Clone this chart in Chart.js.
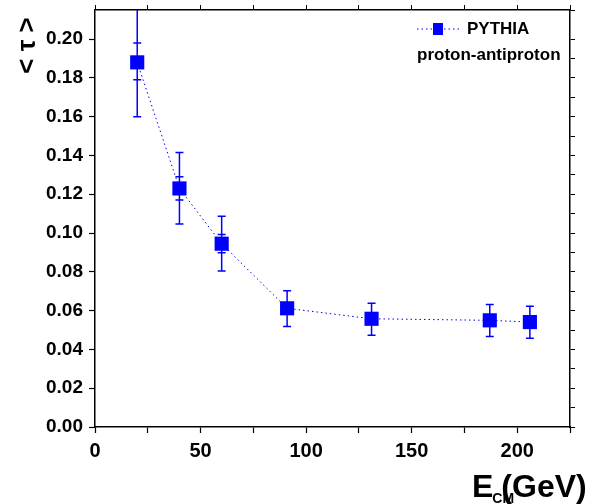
<!DOCTYPE html>
<html>
<head>
<meta charset="utf-8">
<script src="https://cdn.jsdelivr.net/npm/chart.js@4.4.1/dist/chart.umd.min.js"></script>
<style>
  body { margin: 0; background: #fff; }
</style>
</head>
<body>
<canvas id="plot" width="602" height="504"></canvas>
<script>
// values
var energy = [20, 40, 60, 91, 131, 187, 206];          // E_CM (GeV)
var tau = [0.188, 0.123, 0.0945, 0.0612, 0.0558, 0.0550, 0.0541];
var errHigh = [0.240, 0.1415, 0.1087, 0.0703, 0.0638, 0.0631, 0.0622];
var errLow = [0.160, 0.1046, 0.0804, 0.0518, 0.0473, 0.0467, 0.0458];
var statHigh = [0.198, 0.129, 0.0993, 0.0640, 0.0585, 0.0577, 0.0568];
var statLow = [0.179, 0.117, 0.0899, 0.0585, 0.0530, 0.0523, 0.0514];
var xTickLabels = [0, 50, 100, 150, 200];
var yTickLabels = ['0.00', '0.02', '0.04', '0.06', '0.08', '0.10', '0.12', '0.14', '0.16', '0.18', '0.20'];
var seriesName = 'PYTHIA';
var seriesNote = 'proton-antiproton';

var BLUE = '#0000ff';
var FONT = '"Liberation Sans", Arial, sans-serif';
Chart.defaults.font.family = FONT;
Chart.defaults.color = '#000';

var points = energy.map(function (e, i) { return { x: e, y: tau[i] }; });

// error bars, drawn from the scales
var errorBars = {
  id: 'errorBars',
  beforeDatasetsDraw: function (chart) {
    var ctx = chart.ctx, xs = chart.scales.x, ys = chart.scales.y, ca = chart.chartArea;
    ctx.save();
    ctx.beginPath();
    ctx.rect(ca.left, ca.top, ca.right - ca.left, ca.bottom - ca.top);
    ctx.clip();
    ctx.strokeStyle = BLUE;
    ctx.lineWidth = 1.5;
    var cap = 4;
    energy.forEach(function (e, i) {
      var x = xs.getPixelForValue(e);
      var hi = ys.getPixelForValue(errHigh[i]), lo = ys.getPixelForValue(errLow[i]);
      var shi = ys.getPixelForValue(statHigh[i]), slo = ys.getPixelForValue(statLow[i]);
      ctx.beginPath();
      ctx.moveTo(x, hi); ctx.lineTo(x, lo);
      [hi, lo, shi, slo].forEach(function (y) {
        ctx.moveTo(x - cap, y); ctx.lineTo(x + cap, y);
      });
      ctx.stroke();
    });
    ctx.restore();
  }
};

// legend box inside the plot + x axis title with subscript
var annotations = {
  id: 'annotations',
  afterDraw: function (chart) {
    var ctx = chart.ctx, ca = chart.chartArea;
    ctx.save();
    // legend
    var ly = ca.top + 19;
    ctx.strokeStyle = BLUE;
    ctx.lineWidth = 1;
    ctx.setLineDash([1.5, 3]);
    ctx.beginPath();
    ctx.moveTo(ca.right - 153, ly); ctx.lineTo(ca.right - 110, ly);
    ctx.stroke();
    ctx.setLineDash([]);
    ctx.fillStyle = BLUE;
    ctx.fillRect(ca.right - 137, ly - 6, 10, 12);
    ctx.fillStyle = '#000';
    ctx.font = 'bold 17px ' + FONT;
    ctx.textBaseline = 'middle';
    ctx.textAlign = 'left';
    ctx.fillText(seriesName, ca.right - 103, ly);
    ctx.fillText(seriesNote, ca.right - 153, ca.top + 45);
    // x title
    ctx.textBaseline = 'alphabetic';
    var tx = ca.right - 98;
    ctx.font = 'bold 32px ' + FONT;
    ctx.fillText('E', tx, chart.height - 7);
    var wE = ctx.measureText('E').width;
    ctx.font = 'bold 14px ' + FONT;
    ctx.fillText('CM', tx + wE - 1, chart.height - 1);
    ctx.font = 'bold 32px ' + FONT;
    ctx.fillText('(GeV)', tx + wE + 8, chart.height - 7);
    ctx.restore();
  }
};

function noPad(s) { s.paddingTop = 0; s.paddingBottom = 0; s.paddingLeft = 0; s.paddingRight = 0; }

var border = { display: true, color: '#000', width: 1.5 };
var grid = { drawOnChartArea: false, drawTicks: true, tickLength: 6, color: '#000', tickWidth: 1.2 };

new Chart(document.getElementById('plot').getContext('2d'), {
  type: 'scatter',
  data: {
    datasets: [{
      label: seriesName,
      data: points,
      showLine: true,
      borderColor: BLUE,
      borderWidth: 1,
      borderDash: [1.5, 3],
      pointStyle: 'rect',
      pointRadius: 10,
      pointBackgroundColor: BLUE,
      pointBorderColor: BLUE,
      pointBorderWidth: 0
    }]
  },
  options: {
    responsive: false,
    animation: false,
    layout: { padding: 0 },
    plugins: { legend: { display: false }, tooltip: { enabled: false } },
    scales: {
      x: {
        type: 'linear', position: 'bottom', min: 0, max: 225,
        border: border, grid: grid,
        ticks: {
          stepSize: 25, padding: 6, color: '#000',
          font: { size: 20, weight: 'bold' },
          callback: function (v) { return xTickLabels.indexOf(v) >= 0 ? String(v) : ''; }
        },
        afterFit: function (s) { s.height = 77; noPad(s); }
      },
      x2: {
        type: 'linear', position: 'top', min: 0, max: 225,
        border: border, grid: { drawOnChartArea: false, tickLength: 5, color: '#000' },
        ticks: { stepSize: 25, display: false },
        afterFit: function (s) { s.height = 7; noPad(s); }
      },
      y: {
        type: 'linear', position: 'left', min: 0, max: 0.215,
        border: border, grid: grid,
        ticks: {
          stepSize: 0.01, padding: 6, color: '#000',
          font: { size: 19, weight: 'bold' },
          callback: function (v) {
            var t = v.toFixed(2);
            return (Math.abs(v - parseFloat(t)) < 1e-6 && yTickLabels.indexOf(t) >= 0) ? t : '';
          }
        },
        title: {
          display: true, text: '< τ > ', align: 'end', color: '#000',
          font: { size: 26, weight: 'bold' }, padding: { top: 12, bottom: 0 }
        },
        afterFit: function (s) { s.width = 95; noPad(s); }
      },
      y2: {
        type: 'linear', position: 'right', min: 0, max: 0.215,
        border: border, grid: { drawOnChartArea: false, tickLength: 5, color: '#000' },
        ticks: { stepSize: 0.01, display: false },
        afterFit: function (s) { s.width = 32; noPad(s); }
      }
    }
  },
  plugins: [errorBars, annotations]
});
</script>
</body>
</html>
